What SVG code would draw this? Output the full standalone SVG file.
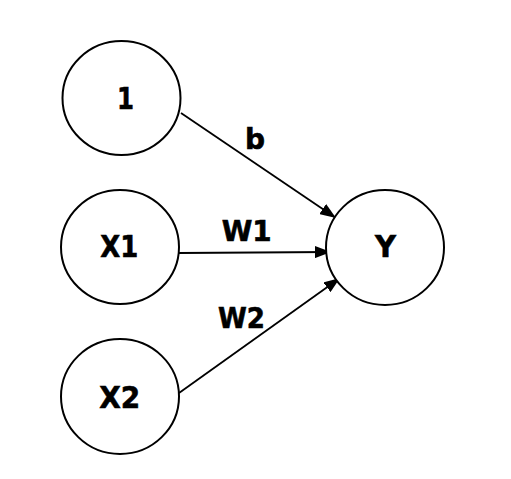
<svg xmlns="http://www.w3.org/2000/svg" width="511" height="479" viewBox="0 0 511 479">
<style>
.node ellipse{fill:#fff;stroke:#000;stroke-width:2}
text{font-family:"DejaVu Sans",Verdana,sans-serif;font-weight:bold;font-size:30px;fill:#000;stroke:#000;stroke-width:0.6;text-anchor:middle}
.lbl{font-size:28px}
.edge{stroke:#000;stroke-width:1.8;fill:none;marker-end:url(#ah)}
</style>
<defs>
<marker id="ah" viewBox="0 0 16 12" refX="16" refY="6" markerWidth="16" markerHeight="12" markerUnits="userSpaceOnUse" orient="auto">
<path d="M0,0 L16,6 L0,12 z" fill="#000"/>
</marker>
</defs>
<g id="edges">
<line class="edge" x1="181" y1="113" x2="336" y2="218"/>
<line class="edge" x1="179" y1="253" x2="331" y2="252"/>
<line class="edge" x1="179" y1="393" x2="340" y2="278"/>
<text class="lbl" x="255" y="149">b</text>
<text class="lbl" x="246.7" y="241" textLength="50" lengthAdjust="spacingAndGlyphs">W1</text>
<text class="lbl" x="241.5" y="327.7" textLength="47" lengthAdjust="spacingAndGlyphs">W2</text>
</g>
<g id="n1" class="node"><ellipse cx="121.5" cy="98" rx="59" ry="57"/><text x="125.5" y="109.3" textLength="17" lengthAdjust="spacingAndGlyphs">1</text></g>
<g id="nx1" class="node"><ellipse cx="120" cy="247" rx="59" ry="57"/><text x="119.3" y="256.7" textLength="38" lengthAdjust="spacingAndGlyphs">X1</text></g>
<g id="nx2" class="node"><ellipse cx="120" cy="396.5" rx="59" ry="57.5"/><text x="119.7" y="408" textLength="41" lengthAdjust="spacingAndGlyphs">X2</text></g>
<g id="ny" class="node"><ellipse cx="385" cy="247.5" rx="59" ry="57.5"/><text x="385.5" y="257.3" textLength="21" lengthAdjust="spacingAndGlyphs">Y</text></g>
</svg>
